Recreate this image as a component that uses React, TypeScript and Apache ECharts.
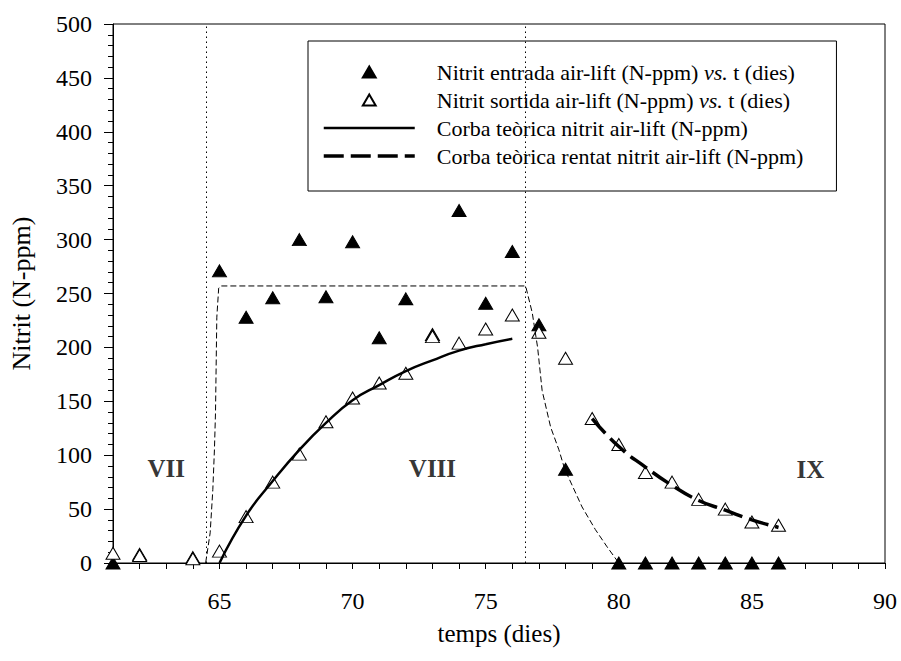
import React, { useEffect, useRef } from "react";
import * as echarts from "echarts";

// Nitrit d'entrada (air-lift), temps en dies
const entradaDies = [61, 62, 64, 65, 66, 67, 68, 69, 70, 71, 72, 73, 74, 75, 76, 77, 78, 80, 81, 82, 83, 84, 85, 86];
const entradaNitrit = [0, 8, 5, 271, 228, 246, 300, 247, 298, 209, 245, 212, 327, 241, 289, 221, 87, 0, 0, 0, 0, 0, 0, 0];

// Nitrit de sortida (air-lift)
const sortidaDies = [61, 62, 64, 65, 66, 67, 68, 69, 70, 71, 72, 73, 74, 75, 76, 77, 78, 79, 80, 81, 82, 83, 84, 85, 86];
const sortidaNitrit = [9, 7, 4, 11, 43, 75, 101, 131, 153, 167, 176, 210, 204, 217, 230, 214, 190, 134, 110, 84, 75, 59, 50, 38, 35];

// Corba teòrica (etapa VIII)
const corbaDies = [65, 66, 67, 68, 69, 70, 71, 72, 73, 74, 75, 76];
const corbaNitrit = [0, 44, 76, 105, 130, 151, 165, 178, 188, 197, 203, 208];

// Corba teòrica de rentat (etapa IX)
const rentatDies = [79, 80, 81, 82, 83, 84, 85, 86];
const rentatNitrit = [134, 108, 89, 72, 58, 49, 40, 33];

// Perfil d'alimentació (línia discontínua fina)
const perfilDies = [64.48, 64.65, 64.75, 64.81, 64.85, 64.9, 64.97, 65.05, 76.5, 76.75, 76.95, 77.12, 77.44, 77.75, 77.97, 78.62, 79.12, 79.56, 80];
const perfilNitrit = [0, 28, 68, 105, 139, 228, 255, 257, 257, 232, 200, 160, 126, 105, 87, 52, 31, 15, 0];

// Canvis d'etapa i etiquetes
const canvisEtapa = [64.5, 76.5];
const etapes = ["VII", "VIII", "IX"];
const etapesDies = [63, 73, 87.2];
const etapesNitrit = [88, 88, 87];

const xTicks = { min: 61, max: 90 };
const yTicks = { min: 0, max: 500, step: 50 };

const serif = "'Liberation Serif', 'Times New Roman', serif";

const zip = (xs: number[], ys: number[]) => xs.map((x, i) => [x, ys[i]]);

const triPath = "path://M0,12 L7,0 L14,12 Z";

export default function App() {
  const ref = useRef<HTMLDivElement>(null);

  useEffect(() => {
    if (!ref.current) return;
    const chart = echarts.init(ref.current, null, { renderer: "svg" });

    const names = [
      "Nitrit entrada air-lift (N-ppm) vs. t (dies)",
      "Nitrit sortida air-lift (N-ppm) vs. t (dies)",
      "Corba teòrica nitrit air-lift (N-ppm)",
      "Corba teòrica rentat nitrit air-lift (N-ppm)",
    ];

    chart.setOption({
      animation: false,
      backgroundColor: "#fff",
      grid: {
        left: 113,
        right: 16,
        top: 24,
        bottom: 98,
        show: true,
        borderColor: "#000",
        borderWidth: 1,
      },
      legend: {
        orient: "vertical",
        left: 308,
        top: 41,
        padding: [19, 33, 23, 14],
        itemGap: 4,
        itemWidth: 91,
        itemHeight: 11,
        borderColor: "#000",
        borderWidth: 1,
        backgroundColor: "#fff",
        selectedMode: false,
        lineStyle: { width: "inherit" },
        data: [
          { name: names[0], icon: triPath, itemStyle: { opacity: 1 } },
          { name: names[1], icon: triPath, itemStyle: { opacity: 1 } },
          { name: names[2], itemStyle: { opacity: 0 } },
          { name: names[3], itemStyle: { opacity: 0 } },
        ],
        formatter: (n: string) => n.replace(" vs. ", " {i|vs.} "),
        textStyle: {
          fontFamily: serif,
          fontSize: 22,
          color: "#000",
          lineHeight: 24,
          padding: [0, 0, 0, 17],
          rich: {
            i: { fontFamily: serif, fontSize: 22, fontStyle: "italic", color: "#000", lineHeight: 24 },
          },
        },
      },
      xAxis: {
        type: "value",
        min: xTicks.min,
        max: xTicks.max,
        interval: 1,
        name: "temps (dies)",
        nameLocation: "middle",
        nameGap: 58,
        nameTextStyle: { fontFamily: serif, fontSize: 25, color: "#000" },
        axisLine: { onZero: false, lineStyle: { color: "#000", width: 1 } },
        axisTick: { show: true, length: 6, lineStyle: { color: "#000" } },
        axisLabel: {
          margin: 26,
          fontFamily: serif,
          fontSize: 24,
          color: "#000",
          formatter: (v: number) => (v % 5 === 0 ? String(v) : ""),
        },
        splitLine: { show: false },
      },
      yAxis: {
        type: "value",
        min: yTicks.min,
        max: yTicks.max,
        interval: yTicks.step,
        name: "Nitrit (N-ppm)",
        nameLocation: "middle",
        nameGap: 79,
        nameTextStyle: { fontFamily: serif, fontSize: 26, color: "#000" },
        axisLine: { show: true, lineStyle: { color: "#000", width: 1 } },
        axisTick: { show: true, length: 9, lineStyle: { color: "#000" } },
        minorTick: { show: true, splitNumber: 5, length: 5, lineStyle: { color: "#000" } },
        axisLabel: { margin: 21, fontFamily: serif, fontSize: 24, color: "#000" },
        splitLine: { show: false },
      },
      series: [
        {
          name: "perfil",
          type: "line",
          data: zip(perfilDies, perfilNitrit),
          symbol: "none",
          silent: true,
          lineStyle: { color: "#000", width: 1, type: [6, 3] },
          markLine: {
            silent: true,
            symbol: ["none", "none"],
            label: { show: false },
            lineStyle: { color: "#000", width: 1, type: [1.5, 3.5] },
            data: canvisEtapa.map((x) => ({ xAxis: x })),
          },
        },
        {
          name: names[0],
          type: "scatter",
          data: zip(entradaDies, entradaNitrit),
          symbol: "triangle",
          symbolSize: [14, 12],
          itemStyle: { color: "#000", borderColor: "#000", borderWidth: 1, opacity: 1 },
          silent: true,
        },
        {
          name: names[1],
          type: "scatter",
          data: zip(sortidaDies, sortidaNitrit),
          symbol: "triangle",
          symbolSize: [14, 12],
          itemStyle: { color: "#fff", borderColor: "#000", borderWidth: 1, opacity: 1 },
          silent: true,
        },
        {
          name: names[2],
          type: "line",
          data: zip(corbaDies, corbaNitrit),
          smooth: true,
          symbol: "none",
          silent: true,
          itemStyle: { color: "#000" },
          lineStyle: { color: "#000", width: 2.5, type: "solid" },
        },
        {
          name: names[3],
          type: "line",
          data: zip(rentatDies, rentatNitrit),
          smooth: true,
          symbol: "none",
          silent: true,
          itemStyle: { color: "#000" },
          lineStyle: { color: "#000", width: 3.5, type: [20, 7] },
        },
        {
          name: "etapes",
          type: "scatter",
          data: etapesDies.map((x, i) => [x, etapesNitrit[i], etapes[i]]),
          symbolSize: 0,
          silent: true,
          label: {
            show: true,
            position: "inside",
            formatter: (p: any) => p.data[2],
            fontFamily: serif,
            fontSize: 25,
            fontWeight: "bold",
            color: "#000",
          },
        },
      ],
    });

    return () => chart.dispose();
  }, []);

  return (
    <div
      ref={ref}
      style={{ position: "fixed", left: 0, top: 0, width: 901, height: 661, background: "#fff" }}
    />
  );
}
